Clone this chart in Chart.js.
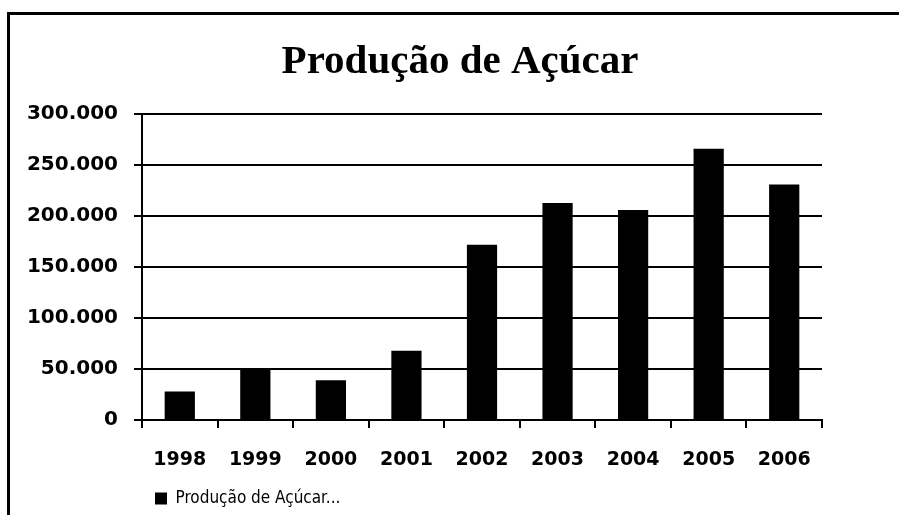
<!DOCTYPE html>
<html>
<head>
<meta charset="utf-8">
<script src="https://cdn.jsdelivr.net/npm/chart.js@4/dist/chart.umd.min.js"></script>
<style>
  html, body { margin: 0; padding: 0; background: #fff; }
  #wrap { position: relative; width: 899px; height: 515px; overflow: hidden; }
  #frame { position: absolute; left: 7px; top: 12px; width: 1000px; height: 600px;
           border-left: 3px solid #000; border-top: 3px solid #000; box-sizing: border-box; }
  canvas { position: absolute; left: 0; top: 0; }
</style>
</head>
<body>
<div id="wrap">
  <div id="frame"></div>
  <canvas id="c" width="899" height="515"></canvas>
</div>
<script>
const categories = ['1998', '1999', '2000', '2001', '2002', '2003', '2004', '2005', '2006'];
const producao = [28000, 51000, 39000, 68000, 172000, 213000, 206000, 266000, 231000];
const yTickLabels = ['0', '50.000', '100.000', '150.000', '200.000', '250.000', '300.000'];
const seriesName = 'Produção de Açúcar...';
const chartTitle = 'Produção de Açúcar';

const shiftPlugin = {
  id: 'shift',
  afterLayout(chart) {
    const t = chart.titleBlock;
    if (t) { t.left = 98; t.right = 822; }
    const l = chart.legend;
    if (l) { const dx = 145; l.left += dx; l.right += dx; l.top += 2; l.bottom += 2; }
  }
};

new Chart(document.getElementById('c'), {
  type: 'bar',
  data: {
    labels: categories,
    datasets: [{
      label: seriesName,
      data: producao,
      backgroundColor: '#000',
      borderWidth: 0,
      barPercentage: 0.4,
      categoryPercentage: 1.0
    }]
  },
  options: {
    responsive: false,
    devicePixelRatio: 1,
    animation: false,
    layout: { padding: { top: 0, left: 0, right: 77, bottom: 0 } },
    plugins: {
      title: {
        display: true,
        text: chartTitle,
        color: '#000',
        font: { family: '"Liberation Serif", "Times New Roman", serif', size: 41, weight: 'bold' },
        padding: { top: 38, bottom: 27 }
      },
      legend: {
        display: true,
        position: 'bottom',
        align: 'start',
        labels: {
          color: '#000',
          boxWidth: 12,
          boxHeight: 12,
          padding: 10,
          font: { family: '"Liberation Sans Narrow", "DejaVu Sans Condensed", "DejaVu Sans", sans-serif', size: 17 }
        }
      },
      tooltip: { enabled: false }
    },
    scales: {
      x: {
        offset: true,
        grid: { offset: true, drawOnChartArea: false, drawTicks: true, tickLength: 8, color: '#000', lineWidth: 2 },
        border: { display: true, color: '#000', width: 2 },
        ticks: { color: '#000', padding: 21, font: { family: '"DejaVu Sans", sans-serif', size: 19, weight: 'bold' } },
        afterFit(scale) { scale.height = 58; }
      },
      y: {
        min: 0,
        max: 300000,
        ticks: {
          stepSize: 50000,
          color: '#000',
          padding: 16,
          font: { family: '"DejaVu Sans", sans-serif', size: 20, weight: 'bold' },
          callback: (v, i) => yTickLabels[i]
        },
        grid: { color: '#000', lineWidth: 2, drawTicks: true, tickLength: 8 },
        border: { display: true, color: '#000', width: 2 },
        afterFit(scale) { scale.width = 142; }
      }
    }
  },
  plugins: [shiftPlugin]
});
</script>
</body>
</html>
